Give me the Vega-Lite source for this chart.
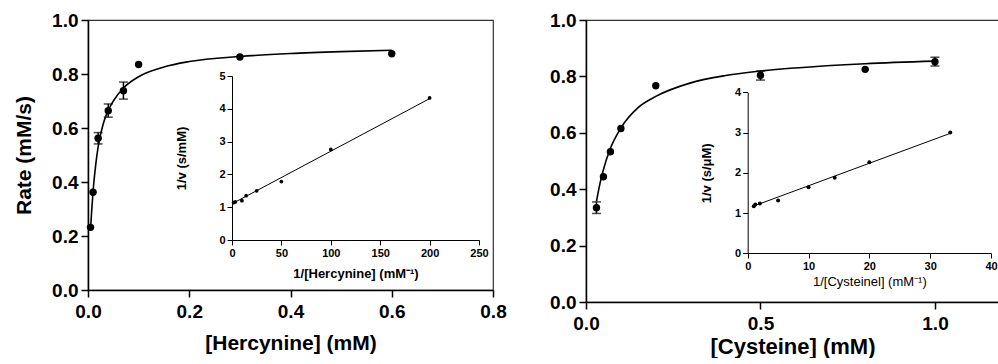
{
  "$schema": "https://vega.github.io/schema/vega-lite/v6.json",
  "padding": {"left": 12, "top": 10, "right": 0, "bottom": 0},
  "background": "white",
  "config": {
    "font": "Liberation Sans",
    "view": {"stroke": "#333", "strokeWidth": 1.2},
    "axis": {
      "grid": false, "domainColor": "black", "tickColor": "black", "labelColor": "black", "titleColor": "black",
      "labelFontWeight": "bold", "titleFontWeight": "bold", "domainWidth": 1.5, "tickWidth": 1.5, "tickSize": 7,
      "labelFontSize": 19, "titleFontSize": 21, "labelFlush": false, "labelOverlap": false
    }
  },
  "datasets": {
    "hercMain": [
      {"s": 0.005, "v": 0.232},
      {"s": 0.01, "v": 0.362},
      {"s": 0.02, "v": 0.562, "lo": 0.541, "hi": 0.583},
      {"s": 0.04, "v": 0.664, "lo": 0.640, "hi": 0.689},
      {"s": 0.07, "v": 0.738, "lo": 0.707, "hi": 0.770},
      {"s": 0.1, "v": 0.835},
      {"s": 0.3, "v": 0.863},
      {"s": 0.6, "v": 0.875}
    ],
    "hercCurve": [
      {"s": 0.005, "v": 0.225}, {"s": 0.0075, "v": 0.30}, {"s": 0.01, "v": 0.365}, {"s": 0.015, "v": 0.46},
      {"s": 0.02, "v": 0.53}, {"s": 0.03, "v": 0.615}, {"s": 0.04, "v": 0.665}, {"s": 0.05, "v": 0.70},
      {"s": 0.07, "v": 0.748}, {"s": 0.1, "v": 0.79}, {"s": 0.15, "v": 0.826}, {"s": 0.2, "v": 0.846},
      {"s": 0.3, "v": 0.865}, {"s": 0.4, "v": 0.876}, {"s": 0.5, "v": 0.883}, {"s": 0.6, "v": 0.888}
    ],
    "hercLB": [
      {"ix": 1.67, "iy": 1.14}, {"ix": 3.33, "iy": 1.16}, {"ix": 10, "iy": 1.2}, {"ix": 14.3, "iy": 1.35},
      {"ix": 25, "iy": 1.5}, {"ix": 50, "iy": 1.78}, {"ix": 100, "iy": 2.76}, {"ix": 200, "iy": 4.33}
    ],
    "hercLBLine": [{"ix": 1.67, "iy": 1.13}, {"ix": 200, "iy": 4.31}],
    "cysMain": [
      {"s": 0.03, "v": 0.334, "lo": 0.314, "hi": 0.355},
      {"s": 0.05, "v": 0.444},
      {"s": 0.07, "v": 0.533},
      {"s": 0.1, "v": 0.615},
      {"s": 0.2, "v": 0.767},
      {"s": 0.5, "v": 0.804, "lo": 0.787, "hi": 0.819},
      {"s": 0.8, "v": 0.825},
      {"s": 1.0, "v": 0.852, "lo": 0.837, "hi": 0.868}
    ],
    "cysCurve": [
      {"s": 0.03, "v": 0.357}, {"s": 0.04, "v": 0.42}, {"s": 0.05, "v": 0.47}, {"s": 0.07, "v": 0.545},
      {"s": 0.1, "v": 0.617}, {"s": 0.15, "v": 0.69}, {"s": 0.2, "v": 0.729}, {"s": 0.3, "v": 0.777},
      {"s": 0.4, "v": 0.803}, {"s": 0.5, "v": 0.819}, {"s": 0.6, "v": 0.83}, {"s": 0.8, "v": 0.845},
      {"s": 1.0, "v": 0.854}
    ],
    "cysLB": [
      {"ix": 1, "iy": 1.17}, {"ix": 1.25, "iy": 1.21}, {"ix": 2, "iy": 1.24}, {"ix": 5, "iy": 1.31},
      {"ix": 10, "iy": 1.64}, {"ix": 14.3, "iy": 1.88}, {"ix": 20, "iy": 2.26}, {"ix": 33.3, "iy": 3.0}
    ],
    "cysLBLine": [{"ix": 1, "iy": 1.175}, {"ix": 33.3, "iy": 2.98}]
  },
  "spacing": 41,
  "hconcat": [
    {
      "width": 405,
      "height": 270,
      "layer": [
        {
          "encoding": {
            "x": {"field": "s", "type": "quantitative", "scale": {"domain": [0, 0.8], "nice": false},
              "axis": {"values": [0, 0.2, 0.4, 0.6, 0.8], "format": ".1f", "labelPadding": 5, "titlePadding": 11},
              "title": "[Hercynine] (mM)"}
          },
          "layer": [
            {
              "data": {"name": "hercCurve"},
              "mark": {"type": "line", "interpolate": "monotone", "color": "black", "strokeWidth": 1.6},
              "encoding": {
                "y": {"field": "v", "type": "quantitative", "scale": {"domain": [0, 1], "nice": false},
                  "axis": {"values": [0, 0.2, 0.4, 0.6, 0.8, 1], "format": ".1f", "labelPadding": 3, "titlePadding": 17},
                  "title": "Rate (mM/s)"}
              }
            },
            {
              "data": {"name": "hercMain"},
              "transform": [{"filter": "datum.lo != null"}],
              "mark": {"type": "rule", "color": "black", "strokeWidth": 1.5},
              "encoding": {
                "y": {"field": "lo", "type": "quantitative", "scale": {"domain": [0, 1], "nice": false}, "title": "Rate (mM/s)"},
                "y2": {"field": "hi"}
              }
            },
            {
              "data": {"name": "hercMain"},
              "transform": [{"filter": "datum.lo != null"}],
              "mark": {"type": "tick", "orient": "horizontal", "color": "black", "size": 9, "thickness": 1.5},
              "encoding": {
                "y": {"field": "lo", "type": "quantitative", "scale": {"domain": [0, 1], "nice": false}, "title": "Rate (mM/s)"}
              }
            },
            {
              "data": {"name": "hercMain"},
              "transform": [{"filter": "datum.lo != null"}],
              "mark": {"type": "tick", "orient": "horizontal", "color": "black", "size": 9, "thickness": 1.5},
              "encoding": {
                "y": {"field": "hi", "type": "quantitative", "scale": {"domain": [0, 1], "nice": false}, "title": "Rate (mM/s)"}
              }
            },
            {
              "data": {"name": "hercMain"},
              "mark": {"type": "point", "filled": true, "color": "black", "opacity": 1, "size": 55},
              "encoding": {
                "y": {"field": "v", "type": "quantitative", "scale": {"domain": [0, 1], "nice": false}, "title": "Rate (mM/s)"}
              }
            }
          ]
        },
        {
          "encoding": {
            "x": {"field": "ix", "type": "quantitative", "scale": {"domain": [0, 250], "range": [144, 391], "nice": false},
              "axis": {"orient": "bottom", "offset": -50, "values": [0, 50, 100, 150, 200, 250], "tickSize": 5, "labelPadding": 2,
                "labelFontSize": 11, "titleFontSize": 13, "titlePadding": 9, "domainWidth": 1, "tickWidth": 1},
              "title": "1/[Hercynine] (mM⁻¹)"},
            "y": {"field": "iy", "type": "quantitative", "scale": {"domain": [0, 5], "range": [220, 56], "nice": false},
              "axis": {"orient": "left", "offset": -144, "values": [0, 1, 2, 3, 4, 5], "tickSize": 5, "labelPadding": 2,
                "labelFontSize": 11, "titleFontSize": 13, "titlePadding": 30, "domainWidth": 1, "tickWidth": 1},
              "title": "1/v (s/mM)"}
          },
          "layer": [
            {
              "data": {"values": [{}]},
              "mark": {"type": "rect", "fill": null, "stroke": "#808080", "strokeWidth": 1},
              "encoding": {"x": {"datum": 0}, "x2": {"datum": 250}, "y": {"datum": 0}, "y2": {"datum": 5}}
            },
            {
              "data": {"name": "hercLBLine"},
              "mark": {"type": "line", "color": "black", "strokeWidth": 1}
            },
            {
              "data": {"name": "hercLB"},
              "mark": {"type": "point", "filled": true, "color": "black", "opacity": 1, "size": 14}
            }
          ]
        }
      ],
      "resolve": {"scale": {"x": "independent", "y": "independent"}, "axis": {"x": "independent", "y": "independent"}}
    },
    {
      "width": 413,
      "height": 282,
      "layer": [
        {
          "encoding": {
            "x": {"field": "s", "type": "quantitative", "scale": {"domain": [0, 1.1834], "nice": false},
              "axis": {"values": [0, 0.5, 1], "format": ".1f", "labelPadding": 5, "titlePadding": 3, "titleFontSize": 22},
              "title": "[Cysteine] (mM)"}
          },
          "layer": [
            {
              "data": {"name": "cysCurve"},
              "mark": {"type": "line", "interpolate": "monotone", "color": "black", "strokeWidth": 1.6},
              "encoding": {
                "y": {"field": "v", "type": "quantitative", "scale": {"domain": [0, 1], "nice": false},
                  "axis": {"values": [0, 0.2, 0.4, 0.6, 0.8, 1], "format": ".1f", "labelPadding": 3},
                  "title": null}
              }
            },
            {
              "data": {"name": "cysMain"},
              "transform": [{"filter": "datum.lo != null"}],
              "mark": {"type": "rule", "color": "black", "strokeWidth": 1.5},
              "encoding": {
                "y": {"field": "lo", "type": "quantitative", "scale": {"domain": [0, 1], "nice": false}, "title": null},
                "y2": {"field": "hi"}
              }
            },
            {
              "data": {"name": "cysMain"},
              "transform": [{"filter": "datum.lo != null"}],
              "mark": {"type": "tick", "orient": "horizontal", "color": "black", "size": 9, "thickness": 1.5},
              "encoding": {
                "y": {"field": "lo", "type": "quantitative", "scale": {"domain": [0, 1], "nice": false}, "title": null}
              }
            },
            {
              "data": {"name": "cysMain"},
              "transform": [{"filter": "datum.lo != null"}],
              "mark": {"type": "tick", "orient": "horizontal", "color": "black", "size": 9, "thickness": 1.5},
              "encoding": {
                "y": {"field": "hi", "type": "quantitative", "scale": {"domain": [0, 1], "nice": false}, "title": null}
              }
            },
            {
              "data": {"name": "cysMain"},
              "mark": {"type": "point", "filled": true, "color": "black", "opacity": 1, "size": 55},
              "encoding": {
                "y": {"field": "v", "type": "quantitative", "scale": {"domain": [0, 1], "nice": false}, "title": null}
              }
            }
          ]
        },
        {
          "encoding": {
            "x": {"field": "ix", "type": "quantitative", "scale": {"domain": [0, 40], "range": [161.7, 405], "nice": false},
              "axis": {"orient": "bottom", "offset": -49, "values": [0, 10, 20, 30, 40], "tickSize": 5, "labelPadding": 2,
                "labelFontSize": 11, "titleFontSize": 13, "titleFontWeight": "normal", "titlePadding": 4, "domainWidth": 1, "tickWidth": 1},
              "title": "1/[Cysteinel] (mM⁻¹)"},
            "y": {"field": "iy", "type": "quantitative", "scale": {"domain": [0, 4], "range": [233.3, 72.3], "nice": false},
              "axis": {"orient": "left", "offset": -161.7, "values": [0, 1, 2, 3, 4], "tickSize": 5, "labelPadding": 2,
                "labelFontSize": 11, "titleFontSize": 13, "titlePadding": 21, "domainWidth": 1, "tickWidth": 1},
              "title": "1/v (s/μM)"}
          },
          "layer": [
            {
              "data": {"values": [{}]},
              "mark": {"type": "rect", "fill": null, "stroke": "#808080", "strokeWidth": 1},
              "encoding": {"x": {"datum": 0}, "x2": {"datum": 40}, "y": {"datum": 0}, "y2": {"datum": 4}}
            },
            {
              "data": {"name": "cysLBLine"},
              "mark": {"type": "line", "color": "black", "strokeWidth": 1}
            },
            {
              "data": {"name": "cysLB"},
              "mark": {"type": "point", "filled": true, "color": "black", "opacity": 1, "size": 16}
            }
          ]
        }
      ],
      "resolve": {"scale": {"x": "independent", "y": "independent"}, "axis": {"x": "independent", "y": "independent"}}
    }
  ]
}
